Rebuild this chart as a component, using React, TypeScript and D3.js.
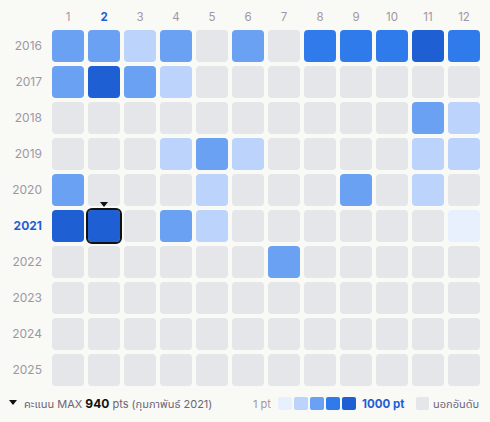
import React from "react";
import * as d3 from "d3";

const years = ["2016","2017","2018","2019","2020","2021","2022","2023","2024","2025"];
const months = ["1","2","3","4","5","6","7","8","9","10","11","12"];
// points per month (null = out of ranking)
const pts2016 = [480, 510, 300, 470, null, 450, null, 720, 700, 690, 880, 710];
const pts2017 = [430, 900, 460, 260, null, null, null, null, null, null, null, null];
const pts2018 = [null, null, null, null, null, null, null, null, null, null, 520, 310];
const pts2019 = [null, null, null, 280, 540, 240, null, null, null, null, 230, 290];
const pts2020 = [500, null, null, null, 220, null, null, null, 470, null, 250, null];
const pts2021 = [860, 940, null, 450, 270, null, null, null, null, null, null, 60];
const pts2022 = [null, null, null, null, null, null, 520, null, null, null, null, null];
const pts2023 = [null, null, null, null, null, null, null, null, null, null, null, null];
const pts2024 = [null, null, null, null, null, null, null, null, null, null, null, null];
const pts2025 = [null, null, null, null, null, null, null, null, null, null, null, null];
const values = [pts2016, pts2017, pts2018, pts2019, pts2020, pts2021, pts2022, pts2023, pts2024, pts2025];
const palette = ["#e8f0fe", "#bcd3fb", "#6aa1f3", "#2f7bec", "#1f5fd4"];
const maxYear = "2021";
const maxMonth = "2";
const maxText = "940";

export default function App() {
  const W = 490, H = 422;
  const x = d3.scaleBand().domain(months).range([50, 482]).paddingInner(4 / 36).paddingOuter(2 / 36);
  const y = d3.scaleBand().domain(years).range([28, 388]).paddingInner(4 / 36).paddingOuter(2 / 36);
  const color = d3.scaleQuantize<string>().domain([1, 1000]).range(palette);
  const empty = "#e5e6ea";
  const gray = "#9d98a4";
  const blue = "#1f5fd4";
  const font = "Inter, 'Noto Sans', 'Noto Sans Thai', sans-serif";
  const bw = x.bandwidth(), bh = y.bandwidth();
  const mx = x(maxMonth)!, my = y(maxYear)!;
  return (
    <svg width={W} height={H} style={{ position: "absolute", left: 0, top: 0, background: "#f9f9f6" }} fontFamily={font}>
      <rect width={W} height={H} fill="#f9f9f6" />
      {months.map((m) => (
        <text key={m} x={x(m)! + bw / 2} y={21} textAnchor="middle" fontSize={11.5}
          fill={m === maxMonth ? blue : gray} fontWeight={m === maxMonth ? 700 : 400}>{m}</text>
      ))}
      {years.map((yr) => (
        <text key={yr} x={42} y={y(yr)! + bh / 2 + 4} textAnchor="end" fontSize={12}
          fill={yr === maxYear ? blue : gray} fontWeight={yr === maxYear ? 700 : 400}>{yr}</text>
      ))}
      {years.map((yr, i) => months.map((m, j) => {
        const v = values[i][j];
        return <rect key={yr + m} x={x(m)} y={y(yr)} width={bw} height={bh} rx={4}
          fill={v == null ? empty : color(v)} />;
      }))}
      <rect x={mx - 1} y={my - 1} width={bw + 2} height={bh + 2} rx={5} fill="none" stroke="#111" strokeWidth={2} />
      <path d={`M${mx + bw / 2 - 4},${my - 8} L${mx + bw / 2 + 4},${my - 8} L${mx + bw / 2},${my - 3} Z`} fill="#111" />
      {/* footer legend */}
      <path d="M9,400 L17,400 L13,405 Z" fill="#111" />
      <text x={24} y={408} fontSize={11} fill="#6b6675">
        <tspan>คะแนน MAX </tspan>
        <tspan fontWeight={700} fill="#111" fontSize={12}>{maxText}</tspan>
        <tspan> pts (กุมภาพันธ์ 2021)</tspan>
      </text>
      <text x={253} y={408} fontSize={11} fill={gray}>1 pt</text>
      {palette.map((c, i) => (
        <rect key={c} x={278 + i * 16} y={397} width={14} height={13} rx={2} fill={c} />
      ))}
      <text x={362} y={408} fontSize={11.5} fontWeight={700} fill={blue}>1000 pt</text>
      <rect x={416} y={397} width={13} height={13} rx={2} fill={empty} />
      <text x={433} y={408} fontSize={11} fill="#6b6675">นอกอันดับ</text>
    </svg>
  );
}
